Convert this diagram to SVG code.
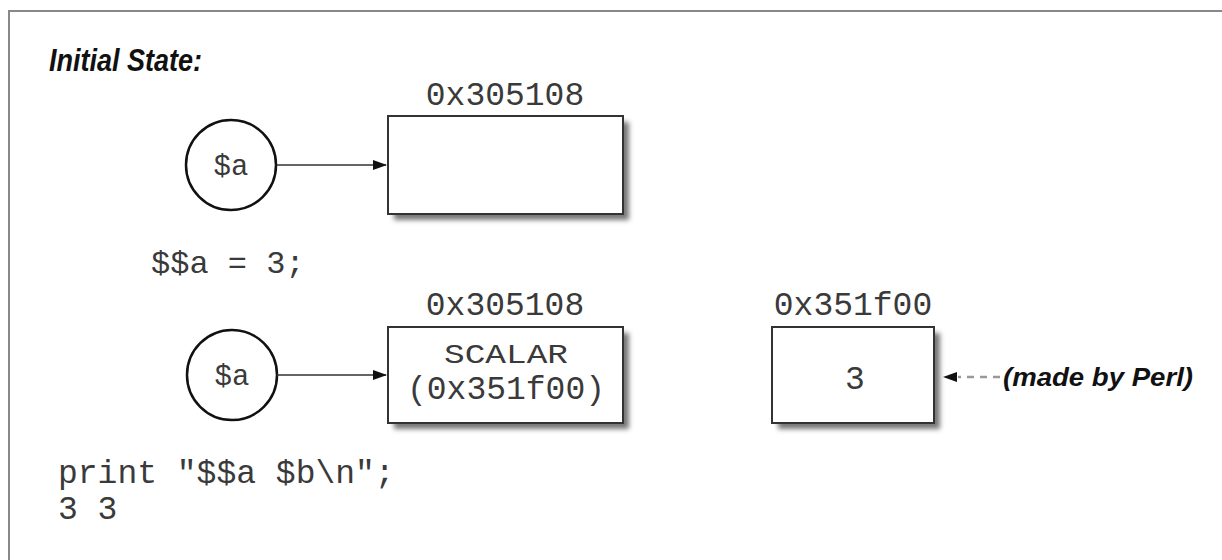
<svg xmlns="http://www.w3.org/2000/svg" width="1222" height="560" viewBox="0 0 1222 560">
  <defs>
    <filter id="shadow" x="-10%" y="-10%" width="130%" height="130%">
      <feGaussianBlur stdDeviation="2.5"/>
    </filter>
    <marker id="arrow" viewBox="0 0 14 10" refX="13" refY="5" markerWidth="14" markerHeight="10" markerUnits="userSpaceOnUse" orient="auto">
      <path d="M0,0 L14,5 L0,10 Z" fill="#111"/>
    </marker>
  </defs>
  <style>
    .frame { fill: none; stroke: #888; stroke-width: 2; }
    .box { fill: #fff; stroke: #333; stroke-width: 2; }
    .shadow { fill: #777; filter: url(#shadow); }
    .circle { fill: #fff; stroke: #111; stroke-width: 2.5; }
    .mono { font-family: "Liberation Mono", "Courier New", monospace; fill: #3a3a3a; }
    .title { font-family: "Liberation Sans", Arial, sans-serif; font-weight: bold; font-style: italic; fill: #111; }
    .conn { stroke: #333; stroke-width: 1.6; fill: none; }
    .dash { stroke: #999; stroke-width: 2.5; stroke-dasharray: 7 6; fill: none; }
  </style>

  <rect width="1222" height="560" fill="#fff"/>
  <path class="frame" d="M9,570 L9,11 L1230,11"/>

  <text class="title" x="49" y="71" font-size="31" textLength="153" lengthAdjust="spacingAndGlyphs">Initial State:</text>

  <g id="var-a-1">
    <circle class="circle" cx="231" cy="165" r="45"/>
    <text class="mono" x="231" y="175" font-size="29" text-anchor="middle">$a</text>
  </g>

  <g id="box-initial">
    <rect class="shadow" x="394" y="122" width="235" height="98"/>
    <rect class="box" x="388" y="116" width="235" height="98"/>
    <text class="mono" x="505" y="105" font-size="33" text-anchor="middle">0x305108</text>
  </g>

  <text class="mono" x="151" y="273" font-size="32">$$a = 3;</text>

  <g id="var-a-2">
    <circle class="circle" cx="232" cy="375" r="45"/>
    <text class="mono" x="232" y="385" font-size="29" text-anchor="middle">$a</text>
  </g>

  <g id="box-scalar">
    <rect class="shadow" x="394" y="333" width="235" height="96"/>
    <rect class="box" x="388" y="327" width="235" height="96"/>
    <text class="mono" x="505" y="315" font-size="33" text-anchor="middle">0x305108</text>
    <text class="mono" x="506" y="363" font-size="27" text-anchor="middle" textLength="124" lengthAdjust="spacingAndGlyphs">SCALAR</text>
    <text class="mono" x="506" y="399" font-size="33" text-anchor="middle">(0x351f00)</text>
  </g>

  <g id="box-value">
    <rect class="shadow" x="778" y="333" width="162" height="96"/>
    <rect class="box" x="772" y="327" width="162" height="96"/>
    <text class="mono" x="853" y="315" font-size="33" text-anchor="middle">0x351f00</text>
    <text class="mono" x="855" y="389" font-size="33" text-anchor="middle">3</text>
  </g>

  <g id="note-perl">
    <text class="title" x="1003" y="386" font-size="26" textLength="190" lengthAdjust="spacingAndGlyphs">(made by Perl)</text>
  </g>

  <g id="connectors">
    <line class="conn" x1="277" y1="165" x2="386" y2="165" marker-end="url(#arrow)"/>
    <line class="conn" x1="277" y1="375" x2="386" y2="375" marker-end="url(#arrow)"/>
    <line class="dash" x1="1000" y1="377" x2="958" y2="377"/>
    <path d="M943,377 L957,372 L957,382 Z" fill="#111"/>
  </g>

  <g id="output">
    <text class="mono" x="58" y="483" font-size="33">print "$$a $b\n";</text>
    <text class="mono" x="58" y="519" font-size="33">3 3</text>
  </g>
</svg>
